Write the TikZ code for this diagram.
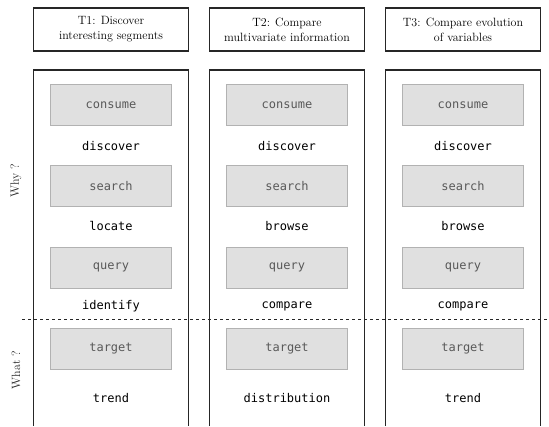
\documentclass[tikz,border=0pt]{standalone}
\usepackage{fontspec}
\usepackage{tikz}
\usetikzlibrary{calc,positioning}
\newfontfamily\monofont{DejaVu Sans Mono}
\def\colw{155}
\def\colh{356}
\tikzstyle{task}  = [draw=black!85, line width=1.4pt, minimum width=\colw pt, minimum height=43pt, align=center, inner sep=2pt, font=\fontsize{12}{15}\selectfont]
\tikzstyle{col}   = [draw=black!85, line width=1.4pt]
\tikzstyle{act}   = [draw=black!30, fill=black!12, minimum width=121pt, minimum height=41pt, text=black!65, font=\fontsize{12}{14}\monofont]
\tikzstyle{verb}  = [font=\fontsize{12}{14}\monofont]
\tikzstyle{side}  = [rotate=90, text=black!85, font=\fontsize{12}{14}\selectfont]

\begin{document}
\begin{tikzpicture}[x=1pt,y=1pt]
		\useasboundingbox (0,0) rectangle (549,426);
		\foreach \i/\cx/\ttl/\va/\vb/\vc/\vd in {
				1/111/{T1: Discover\\interesting segments}/discover/locate/identify/trend,
				2/287/{T2: Compare\\multivariate information}/discover/browse/compare/distribution,
				3/463/{T3: Compare evolution\\of variables}/discover/browse/compare/trend}{
				\node[task] (t\i) at (\cx,396.5) {\ttl};
				\draw[col] (\cx-\colw/2,0) -- (\cx-\colw/2,\colh) -- (\cx+\colw/2,\colh) -- (\cx+\colw/2,0);
				\node[act]  (consume\i) at (\cx,321)   {consume};
				\node[verb] (why\i a)   at (\cx,280)   {\va};
				\node[act]  (search\i)  at (\cx,240)   {search};
				\node[verb] (why\i b)   at (\cx,200)   {\vb};
				\node[act]  (query\i)   at (\cx,158.5) {query};
				\node[verb] (why\i c)   at (\cx,120)   {\vc};
				\node[act]  (target\i)  at (\cx,77.5)  {target};
				\node[verb] (what\i)    at (\cx,28)    {\vd};
			}
		\coordinate (sepl) at (22,107);
		\coordinate (sepr) at (549,107);
		\draw[dashed, black!85, line width=0.8pt] (sepl) -- (sepr);
		\node[side] (why)  at (16,245) {Why ?};
		\node[side] (what) at (16,56)  {What ?};
	\end{tikzpicture}
\end{document}
